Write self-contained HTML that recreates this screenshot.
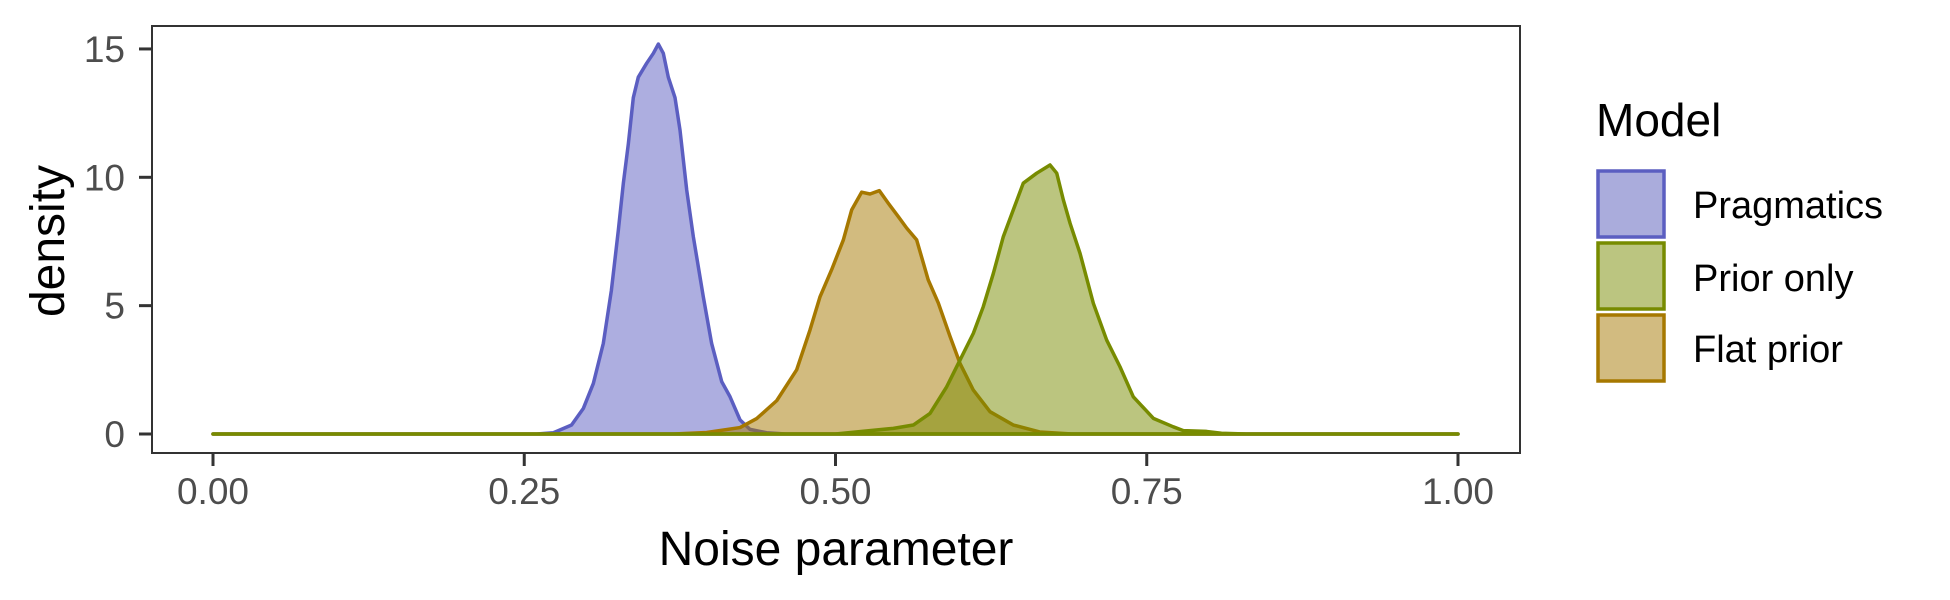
<!DOCTYPE html>
<html><head><meta charset="utf-8"><style>
html,body{margin:0;padding:0;background:#fff;}
svg{display:block;font-family:"Liberation Sans",Arial,sans-serif;}
</style></head><body>
<svg id="chart" width="1950" height="600" viewBox="0 0 1950 600" xmlns="http://www.w3.org/2000/svg">
<g id="marks"></g>
<rect x="152" y="26" width="1368" height="427" fill="none" stroke="#333" stroke-width="2"/>
<g id="axes"></g>
<text x="836" y="565" font-size="48" text-anchor="middle" fill="#000">Noise parameter</text>
<text transform="translate(64,241) rotate(-90)" font-size="48" text-anchor="middle" fill="#000">density</text>
<g>
<text x="1596" y="136" font-size="46" fill="#000">Model</text>
<rect x="1598" y="171" width="66" height="66" fill="#aaacdc" stroke="#5B5EC1" stroke-width="3.5"/>
<text x="1693" y="218" font-size="38" fill="#000">Pragmatics</text>
<rect x="1598" y="243" width="66" height="66" fill="#bbc580" stroke="#778B00" stroke-width="3.5"/>
<text x="1693" y="291" font-size="38" fill="#000">Prior only</text>
<rect x="1598" y="315" width="66" height="66" fill="#d2bb80" stroke="#A67800" stroke-width="3.5"/>
<text x="1693" y="362" font-size="38" fill="#000">Flat prior</text>
</g>
</svg>
<script>
const xTicks = [0, 0.25, 0.5, 0.75, 1];
const xTickLabels = ["0.00", "0.25", "0.50", "0.75", "1.00"];
const yTicks = [0, 5, 10, 15];
const yTickLabels = ["0", "5", "10", "15"];
const pragX = [0,0.26,0.2734,0.288,0.2975,0.3055,0.3135,0.32,0.3256,0.3296,0.3336,0.3376,0.3416,0.3483,0.3537,0.3577,0.3617,0.3657,0.3711,0.3751,0.3805,0.3858,0.3938,0.4005,0.4086,0.4153,0.4233,0.4313,0.4447,0.46,1];
const pragY = [0,0,0.05,0.35,1.0,1.97,3.53,5.6,7.95,9.77,11.3,13.1,13.9,14.44,14.83,15.19,14.83,13.9,13.1,11.84,9.5,7.69,5.35,3.53,2.04,1.45,0.55,0.18,0.05,0,0];
const flatX = [0,0.37,0.3965,0.4233,0.4367,0.4528,0.4688,0.4795,0.4876,0.4969,0.5063,0.513,0.521,0.5277,0.5352,0.5424,0.5504,0.5572,0.5652,0.5745,0.5826,0.592,0.6,0.6107,0.6241,0.6428,0.664,0.69,1];
const flatY = [0,0,0.06,0.25,0.6,1.3,2.5,4.05,5.35,6.4,7.56,8.73,9.42,9.35,9.48,8.99,8.47,8.02,7.56,6.0,5.1,3.8,2.75,1.71,0.87,0.35,0.08,0,0];
const priorX = [0,0.5,0.5465,0.5625,0.5759,0.5893,0.6,0.6107,0.6187,0.6268,0.6348,0.6428,0.6508,0.6616,0.6723,0.6777,0.683,0.6884,0.6964,0.7071,0.7178,0.7285,0.7392,0.7553,0.7713,0.7794,0.798,0.81,0.83,1];
const priorY = [0,0,0.22,0.35,0.8,1.84,2.88,3.92,4.96,6.26,7.69,8.73,9.77,10.16,10.48,10.16,9.12,8.21,7.04,5.09,3.66,2.62,1.45,0.61,0.28,0.13,0.1,0.03,0,0];

const NS = "http://www.w3.org/2000/svg";
function sx(v){ return 213 + v * 1245; }
function sy(v){ return 434 - v * 25.67; }
const marks = document.getElementById("marks");
const axes = document.getElementById("axes");
function drawSeries(xs, ys, fill, stroke, name){
  let d = "";
  for (let i = 0; i < xs.length; i++) d += (i ? "L" : "M") + sx(xs[i]).toFixed(2) + "," + sy(ys[i]).toFixed(2);
  const area = document.createElementNS(NS, "path");
  area.setAttribute("d", d + "Z");
  area.setAttribute("fill", fill);
  area.setAttribute("fill-opacity", "0.5");
  area.setAttribute("stroke", stroke);
  area.setAttribute("stroke-width", "3.5");
  area.setAttribute("stroke-linejoin", "round");
  
  
  marks.appendChild(area);
}
drawSeries(pragX, pragY, "#5B5EC1", "#5B5EC1", "density-pragmatics");
drawSeries(flatX, flatY, "#A67800", "#A67800", "density-flat-prior");
drawSeries(priorX, priorY, "#778B00", "#778B00", "density-prior-only");

xTicks.forEach((v, i) => {
  const t = document.createElementNS(NS, "line");
  t.setAttribute("x1", sx(v)); t.setAttribute("x2", sx(v));
  t.setAttribute("y1", 453); t.setAttribute("y2", 466);
  t.setAttribute("stroke", "#333"); t.setAttribute("stroke-width", "3");
  
  
  axes.appendChild(t);
  const l = document.createElementNS(NS, "text");
  l.setAttribute("x", sx(v)); l.setAttribute("y", 504);
  l.setAttribute("font-size", "37"); l.setAttribute("fill", "#4d4d4d");
  l.setAttribute("text-anchor", "middle");
  l.textContent = xTickLabels[i];
  
  
  axes.appendChild(l);
});
yTicks.forEach((v, i) => {
  const t = document.createElementNS(NS, "line");
  t.setAttribute("x1", 139); t.setAttribute("x2", 152);
  t.setAttribute("y1", sy(v)); t.setAttribute("y2", sy(v));
  t.setAttribute("stroke", "#333"); t.setAttribute("stroke-width", "3");
  
  
  axes.appendChild(t);
  const l = document.createElementNS(NS, "text");
  l.setAttribute("x", 125); l.setAttribute("y", sy(v) + 13);
  l.setAttribute("font-size", "37"); l.setAttribute("fill", "#4d4d4d");
  l.setAttribute("text-anchor", "end");
  l.textContent = yTickLabels[i];
  
  
  axes.appendChild(l);
});
</script>
</body></html>
